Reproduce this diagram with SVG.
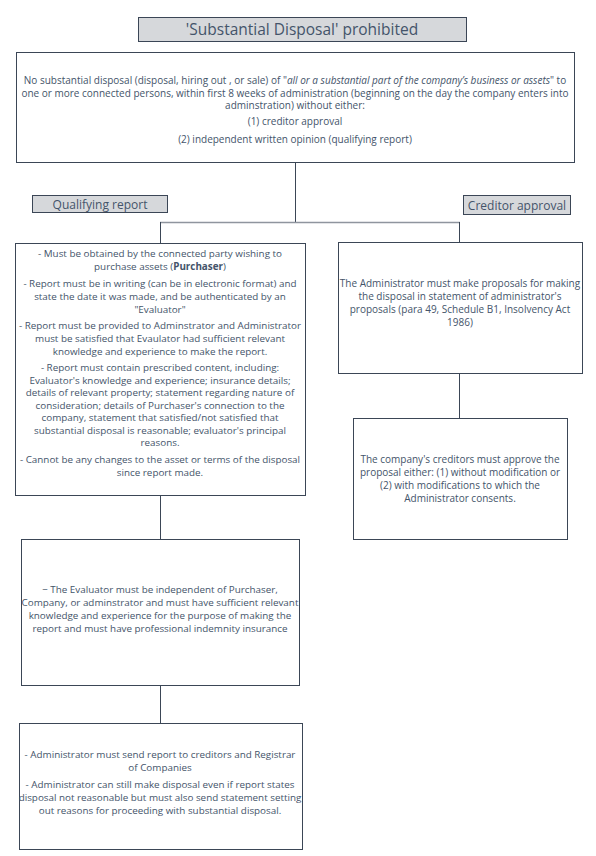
<svg xmlns="http://www.w3.org/2000/svg" width="596" height="856" viewBox="0 0 596 856">
<style>
.box{fill:#fff;stroke:#3b4656;stroke-width:1}
.lbl{fill:#d6d8db;stroke:#3b4656;stroke-width:1}
.t{font-family:"Open Sans","Noto Sans",sans-serif;font-size:10px;fill:#44546a;text-anchor:middle}
.s{font-size:9.85px}
.h{font-family:"Open Sans","Noto Sans",sans-serif;fill:#44546a;text-anchor:middle}
.ln{fill:none;stroke:#3b4656;stroke-width:1}
.lg{fill:none;stroke:#8f959e;stroke-width:1.5}
</style>
<rect width="596" height="856" fill="#fff"/>
<g id="connectors">
<path class="ln" d="M295.5 163V222"/>
<path class="lg" d="M160 222.5H460"/>
<path class="ln" d="M160.5 222V243"/>
<path class="ln" d="M459.5 222V242"/>
<path class="ln" d="M459.5 373V418"/>
<path class="ln" d="M160.5 495V539"/>
<path class="ln" d="M160.5 685V723"/>
</g>
<g id="title">
<rect class="lbl" x="138.5" y="17.5" width="328" height="24"/>
<text class="h" x="302" y="35" font-size="15.5">'Substantial Disposal' prohibited</text>
</g>
<g id="main">
<rect class="box" x="16.5" y="52.5" width="558" height="110"/>
<text class="t" x="295" y="84">No substantial disposal (disposal, hiring out , or sale) of "<tspan font-style="italic">all or a substantial part of the company’s business or assets</tspan>" to</text>
<text class="t" x="295" y="96.5">one or more connected persons, within first 8 weeks of administration (beginning on the day the company enters into</text>
<text class="t" x="295" y="109">adminstration) without either:</text>
<text class="t" x="295" y="125">(1) creditor approval</text>
<text class="t" x="295" y="143">(2) independent written opinion (qualifying report)</text>
</g>
<g id="qualifying-label">
<rect class="lbl" x="32.5" y="195.5" width="135" height="17"/>
<text class="h" x="100" y="208.5" font-size="12">Qualifying report</text>
</g>
<g id="creditor-label">
<rect class="lbl" x="463.5" y="195.5" width="107" height="19"/>
<text class="h" x="517" y="209.5" font-size="12">Creditor approval</text>
</g>
<g id="qualifying">
<rect class="box" x="15.5" y="243.5" width="290" height="252"/>
<text class="t s" x="160" y="257">- Must be obtained by the connected party wishing to</text>
<text class="t s" x="160" y="270">purchase assets (<tspan font-weight="bold">Purchaser</tspan>)</text>
<text class="t s" x="160" y="287">- Report must be in writing (can be in electronic format) and</text>
<text class="t s" x="160" y="300">state the date it was made, and be authenticated by an</text>
<text class="t s" x="160" y="313">"Evaluator"</text>
<text class="t s" x="160" y="329">- Report must be provided to Adminstrator and Administrator</text>
<text class="t s" x="160" y="342">must be satisfied that Evaulator had sufficient relevant</text>
<text class="t s" x="160" y="354.5">knowledge and experience to make the report.</text>
<text class="t s" x="160" y="371">- Report must contain prescribed content, including:</text>
<text class="t s" x="160" y="383.5">Evaluator's knowledge and experience; insurance details;</text>
<text class="t s" x="160" y="396">details of relevant property; statement regarding nature of</text>
<text class="t s" x="160" y="408.5">consideration; details of Purchaser's connection to the</text>
<text class="t s" x="160" y="421">company, statement that satisfied/not satisfied that</text>
<text class="t s" x="160" y="433.5">substantial disposal is reasonable; evaluator's principal</text>
<text class="t s" x="160" y="446">reasons.</text>
<text class="t s" x="160" y="463">- Cannot be any changes to the asset or terms of the disposal</text>
<text class="t s" x="160" y="476">since report made.</text>
</g>
<g id="admin-proposals">
<rect class="box" x="338.5" y="242.5" width="244" height="131"/>
<text class="t" x="460" y="287">The Administrator must make proposals for making</text>
<text class="t" x="460" y="300">the disposal in statement of administrator's</text>
<text class="t" x="460" y="313">proposals (para 49, Schedule B1, Insolvency Act</text>
<text class="t" x="460" y="326">1986)</text>
</g>
<g id="creditors-approve">
<rect class="box" x="353.5" y="418.5" width="214" height="121"/>
<text class="t" x="460" y="463">The company's creditors must approve the</text>
<text class="t" x="460" y="476">proposal either: (1) without modification or</text>
<text class="t" x="460" y="489">(2) with modifications to which the</text>
<text class="t" x="460" y="502">Administrator consents.</text>
</g>
<g id="evaluator">
<rect class="box" x="21.5" y="539.5" width="278" height="146"/>
<text class="t s" x="160" y="593">− The Evaluator must be independent of Purchaser,</text>
<text class="t s" x="160" y="606">Company, or adminstrator and must have sufficient relevant</text>
<text class="t s" x="160" y="619">knowledge and experience for the purpose of making the</text>
<text class="t s" x="160" y="632">report and must have professional indemnity insurance</text>
</g>
<g id="send-report">
<rect class="box" x="19.5" y="723.5" width="283" height="126"/>
<text class="t s" x="160" y="758">- Administrator must send report to creditors and Registrar</text>
<text class="t s" x="160" y="771">of Companies</text>
<text class="t s" x="160" y="788">- Administrator can still make disposal even if report states</text>
<text class="t s" x="160" y="801">disposal not reasonable but must also send statement setting</text>
<text class="t s" x="160" y="814">out reasons for proceeding with substantial disposal.</text>
</g>
</svg>
